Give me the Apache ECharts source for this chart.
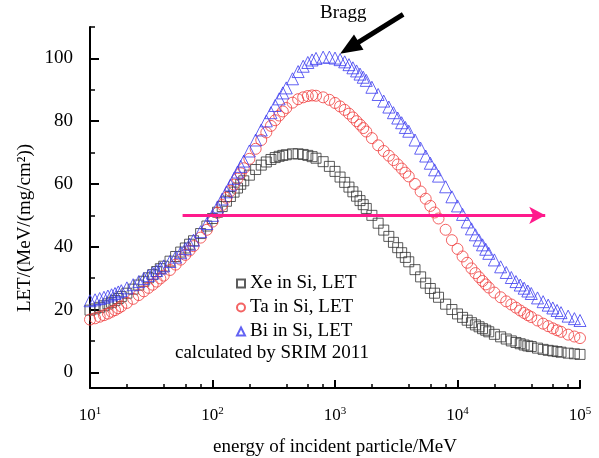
<!DOCTYPE html>
<html>
<head>
<meta charset="utf-8">
<script src="https://cdn.jsdelivr.net/npm/echarts@6/dist/echarts.min.js"></script>
<style>
  html, body { margin: 0; padding: 0; background: #fff; }
  #chart { width: 599px; height: 458px; }
</style>
</head>
<body>
<div id="chart"></div>
<script>
// SRIM energy grid (MeV)
var energy = [10,11,12,13,14,15,16,17,18,20,22.5,25,27.5,30,32.5,35,37.5,40,45,50,55,60,65,70,80,90,
  100,110,120,130,140,150,160,170,180,200,225,250,275,300,325,350,375,400,450,500,550,600,650,700,800,900,
  1000,1100,1200,1300,1400,1500,1600,1700,1800,2000,2250,2500,2750,3000,3250,3500,3750,4000,4500,5000,5500,6000,6500,7000,8000,9000,
  10000,11000,12000,13000,14000,15000,16000,17000,18000,20000,22500,25000,27500,30000,32500,35000,37500,40000,45000,50000,55000,60000,65000,70000,80000,90000,
  100000];

// LET values, MeV/(mg/cm2)
var xeLet = [19.8,20.2,20.7,21.2,21.8,22.3,22.9,23.5,24.1,25.2,26.5,27.8,29.0,30.1,31.1,32.1,33.0,33.8,35.4,36.9,38.3,39.6,40.8,41.9,44.2,46.6,
  49.0,51.0,52.8,54.5,56.0,57.4,58.7,59.9,61.0,62.8,64.6,66.0,67.0,67.8,68.4,68.8,69.1,69.3,69.6,69.6,69.4,69.1,68.7,68.2,67.1,65.6,
  64.0,62.2,60.5,59.0,57.5,56.1,54.7,53.4,52.2,50.0,47.5,45.3,43.3,41.4,39.7,38.1,36.6,35.2,32.7,30.4,28.4,26.7,25.2,23.9,21.7,20.0,
  18.6,17.5,16.6,15.8,15.1,14.5,13.9,13.4,12.9,12.1,11.3,10.6,10.0,9.5,9.1,8.7,8.4,8.2,7.7,7.3,7.0,6.8,6.6,6.4,6.1,5.9,
  5.7];
var taLet = [16.8,17.2,17.7,18.2,18.7,19.3,19.8,20.4,21.0,22.1,23.4,24.6,25.8,26.9,27.9,28.9,29.9,30.8,32.6,34.3,35.9,37.4,38.8,40.2,42.9,45.4,
  48.0,50.8,53.3,55.6,57.8,59.8,61.7,63.4,65.0,68.0,71.2,74.0,76.4,78.5,80.3,81.8,83.1,84.2,85.9,87.0,87.6,88.0,88.2,88.1,87.6,86.8,
  85.8,84.7,83.6,82.4,81.2,80.0,78.9,77.8,76.7,74.6,72.3,70.5,69.0,67.6,66.2,64.9,63.6,62.4,60.0,57.6,55.3,53.0,50.9,49.0,45.4,42.1,
  39.3,36.9,34.9,33.1,31.6,30.3,29.1,28.0,27.0,25.4,23.9,22.6,21.6,20.6,19.7,18.9,18.2,17.6,16.5,15.5,14.7,14.0,13.4,12.9,12.0,11.4,
  10.9];
var biLet = [22.8,23.1,23.5,23.9,24.3,24.7,25.1,25.6,26.0,26.9,27.9,28.9,29.9,30.8,31.6,32.4,33.2,33.9,35.3,36.7,38.1,39.4,40.8,42.1,44.8,47.4,
  50.0,52.7,55.2,57.5,59.7,61.8,63.8,65.6,67.3,70.5,74.0,77.2,80.1,82.7,85.0,87.1,89.0,90.6,93.5,95.8,97.5,98.7,99.5,100.0,100.4,100.4,
  100.1,99.6,98.9,98.0,97.0,96.0,95.0,94.0,93.0,90.8,88.5,86.4,84.5,82.7,81.0,79.5,78.0,76.8,74.0,71.4,68.9,66.6,64.5,62.5,59.1,55.9,
  53.0,50.3,47.9,45.7,43.8,42.1,40.6,39.2,37.9,35.8,33.6,31.8,30.2,28.9,27.8,26.8,25.9,25.1,23.7,22.5,21.4,20.5,19.7,19.0,17.9,17.1,
  16.5];

var seriesNames = ['Xe in Si, LET', 'Ta in Si, LET', 'Bi in Si, LET'];
var yLabels = [0, 20, 40, 60, 80, 100];
var yMinor = [10, 30, 50, 70, 90, 110];
var xMajor = [10, 100, 1000, 10000, 100000];
var xMinor = [20, 40, 60, 80, 200, 400, 600, 800, 2000, 4000, 6000, 8000, 20000, 40000, 60000, 80000];

// annotations (data coords)
var guideLevel = 50, guideFrom = 57, guideTo = 52000;
var braggTail = [3600, 114], braggHead = [1100, 101.5];

var serif = '"Liberation Serif", "Times New Roman", serif';

function pts(ys) {
  return energy.map(function (e, i) { return [e, ys[i]]; });
}

var chart = echarts.init(document.getElementById('chart'));

var option = {
  animation: false,
  backgroundColor: '#fff',
  textStyle: { fontFamily: serif, color: '#000' },
  grid: { left: 90, right: 19, top: 27, bottom: 70, containLabel: false, outerBoundsMode: 'none' },
  legend: {
    left: 231, top: 269,
    orient: 'vertical',
    itemWidth: 8, itemHeight: 8, itemGap: 5,
    textStyle: { fontFamily: serif, fontSize: 19, color: '#000', lineHeight: 19 },
    data: [
      { name: seriesNames[0], icon: 'rect' },
      { name: seriesNames[1], icon: 'circle' },
      { name: seriesNames[2], icon: 'triangle' }
    ]
  },
  xAxis: [{
    type: 'log', logBase: 10, min: 10, max: 100000,
    name: 'energy of incident particle/MeV',
    nameLocation: 'middle', nameGap: 50,
    nameTextStyle: { fontFamily: serif, fontSize: 19, color: '#000' },
    axisLine: { onZero: false, lineStyle: { color: '#000', width: 2 } },
    axisTick: { inside: true, length: 8, customValues: xMajor, lineStyle: { color: '#000', width: 2 } },
    axisLabel: {
      customValues: xMajor, margin: 18,
      formatter: function (v) { return '{b|10}{s|' + Math.round(Math.log10(v)) + '}'; },
      rich: {
        b: { fontFamily: serif, fontSize: 17, color: '#000' },
        s: { fontFamily: serif, fontSize: 11, color: '#000', padding: [0, 0, 9, 0] }
      }
    },
    splitLine: { show: false }
  }, {
    type: 'log', logBase: 10, min: 10, max: 100000, position: 'bottom',
    axisLine: { show: false, onZero: false },
    axisTick: { inside: true, length: 4, customValues: xMinor, lineStyle: { color: '#000', width: 1.5 } },
    axisLabel: { show: false },
    splitLine: { show: false }
  }],
  yAxis: [{
    type: 'value', min: -5, max: 110,
    axisLine: { show: true, onZero: false, lineStyle: { color: '#000', width: 2 } },
    axisTick: { show: true, inside: true, length: 9, customValues: yLabels, lineStyle: { color: '#000', width: 2 } },
    axisLabel: { customValues: yLabels, margin: 17, fontFamily: 'Liberation Serif', fontSize: 19, color: '#000' },
    splitLine: { show: false }
  }, {
    type: 'value', min: -5, max: 110, position: 'left',
    axisLine: { show: false, onZero: false },
    axisTick: { show: true, inside: true, length: 5, customValues: yMinor, lineStyle: { color: '#000', width: 1.5 } },
    axisLabel: { show: false },
    splitLine: { show: false }
  }],
  series: [{
    name: seriesNames[0], type: 'scatter', symbol: 'rect', symbolSize: 10,
    itemStyle: { color: 'rgba(255,255,255,0)', borderColor: '#333', borderWidth: 1 },
    data: pts(xeLet), silent: true,
    markLine: {
      silent: true, animation: false,
      symbol: ['none', 'arrow'], symbolSize: [13, 16],
      label: { show: false },
      lineStyle: { color: '#ff1a8c', width: 3, type: 'solid' },
      data: [[{ coord: [guideFrom, guideLevel] }, { coord: [guideTo, guideLevel] }]]
    }
  }, {
    name: seriesNames[1], type: 'scatter', symbol: 'circle', symbolSize: 11,
    itemStyle: { color: 'rgba(255,255,255,0)', borderColor: '#f03c3c', borderWidth: 1 },
    data: pts(taLet), silent: true
  }, {
    name: seriesNames[2], type: 'scatter', symbol: 'triangle', symbolSize: 12,
    itemStyle: { color: 'rgba(255,255,255,0)', borderColor: '#3c3cf0', borderWidth: 1 },
    data: pts(biLet), silent: true
  }]
};

chart.setOption(option);

// annotations placed through the grid's own scales
var tail = chart.convertToPixel({ xAxisIndex: 0, yAxisIndex: 0 }, braggTail);
var head = chart.convertToPixel({ xAxisIndex: 0, yAxisIndex: 0 }, braggHead);
var dx = head[0] - tail[0], dy = head[1] - tail[1];
var len = Math.sqrt(dx * dx + dy * dy);
var ux = dx / len, uy = dy / len;
var hl = 22, hw = 9;
var bx = head[0] - ux * hl, by = head[1] - uy * hl;

chart.setOption({
  graphic: [{
    type: 'line', silent: true,
    shape: { x1: tail[0], y1: tail[1], x2: bx + ux * 2, y2: by + uy * 2 },
    style: { stroke: '#000', lineWidth: 5 }
  }, {
    type: 'polygon', silent: true,
    shape: { points: [[head[0], head[1]], [bx - uy * hw, by + ux * hw], [bx + uy * hw, by - ux * hw]] },
    style: { fill: '#000' }
  }, {
    type: 'text', silent: true, left: 320, top: 4,
    style: { text: 'Bragg', font: '19px ' + serif, fill: '#000' }
  }, {
    type: 'text', silent: true, left: 175, top: 344,
    style: { text: 'calculated by SRIM 2011', font: '19px ' + serif, fill: '#000' }
  }, {
    type: 'text', silent: true, x: 25, y: 228, rotation: Math.PI / 2,
    style: { text: 'LET/(MeV/(mg/cm²))', font: '19px ' + serif, fill: '#000', align: 'center', verticalAlign: 'middle' }
  }]
});
</script>
</body>
</html>
